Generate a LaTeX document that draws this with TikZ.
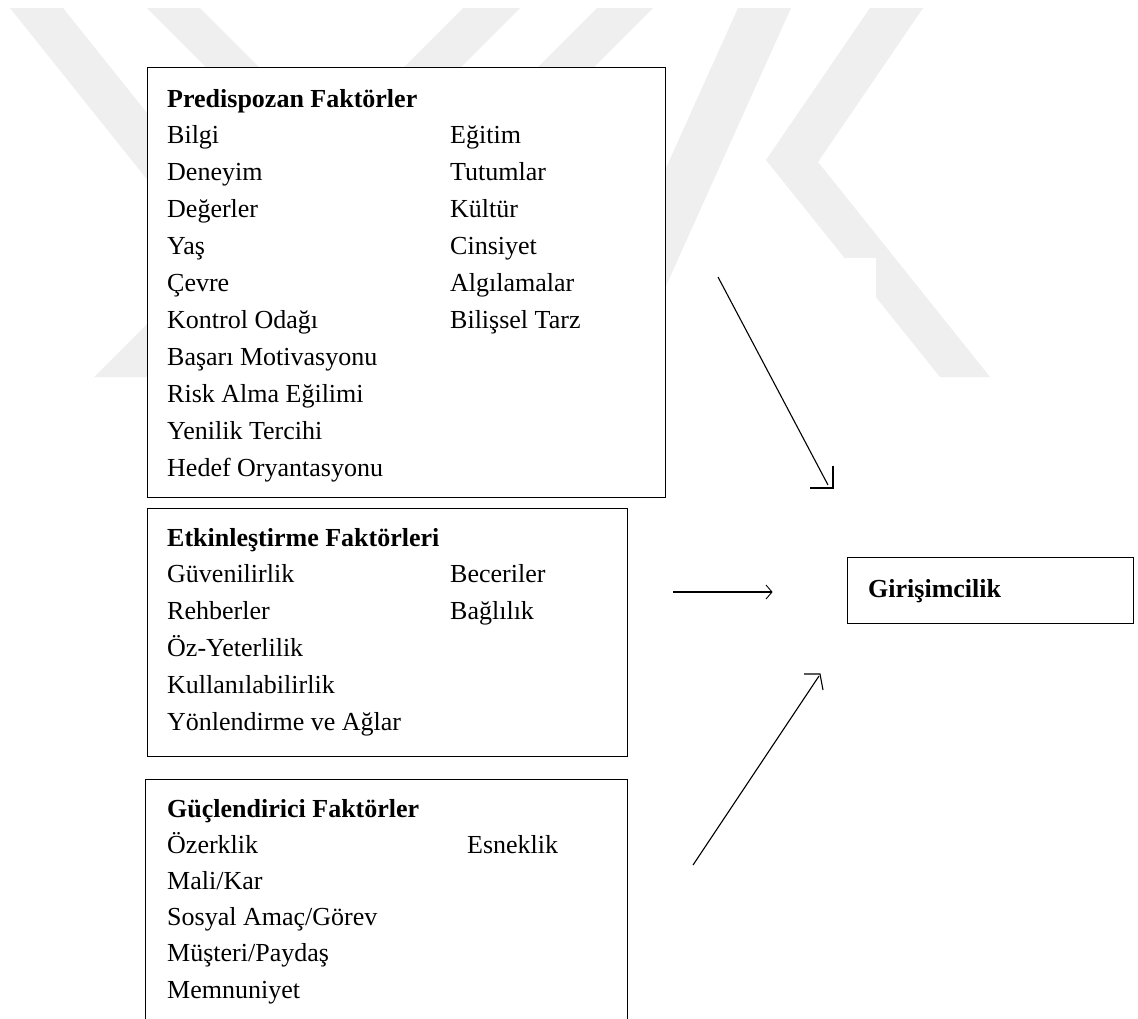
\documentclass[tikz,border=0pt]{standalone}
\usepackage{fontspec}
\setmainfont{Liberation Serif}
\usepackage{array}
\definecolor{wmgray}{RGB}{239,239,239}
\begin{document}
\begin{tikzpicture}[x=1pt,y=-1pt,
  wm/.style={fill=wmgray,draw=none},
  factorbox/.style={draw=black,line width=1.3pt,fill=white,inner sep=0pt,anchor=north west},
  itemtext/.style={inner sep=0pt,anchor=base west,align=left},
  link/.style={draw=black,line width=1.1pt},
]
\useasboundingbox (0,0) rectangle (1138,1018);
\fill[white] (0,0) rectangle (1138,1018);

% faint logo in the background
\begin{scope}
  \clip (0,8) rectangle (1138,377);
  \fill[wm] (10,8) -- (63,8) -- (358,377) -- (305,377) -- cycle;
  \fill[wm] (147,8) -- (200,8) -- (569,377) -- (516,377) -- cycle;
  \fill[wm] (463,8) -- (520,8) -- (151,377) -- (94,377) -- cycle;
  \fill[wm] (597,8) -- (653,8) -- (284,377) -- (228,377) -- cycle;
  \fill[wm] (738,8) -- (791,8) -- (625,377) -- (572,377) -- cycle;
  \fill[wm] (870,8) -- (923,8) -- (818,162) -- (990,377) -- (940,377) -- (766,160) -- cycle;
\end{scope}
\fill[white] (688,258) rectangle (876,400);

% factor boxes
\node[factorbox,minimum width=518pt,minimum height=430pt] (pre) at (147,67) {};
\node[factorbox,minimum width=480pt,minimum height=248pt] (etk) at (147,508) {};
\begin{scope}
  \clip (0,0) rectangle (1138,1018);
  \node[factorbox,minimum width=482pt,minimum height=260pt] (guc) at (145,779) {};
\end{scope}
\node[factorbox,minimum width=286pt,minimum height=66pt] (gir) at (847,557) {};

% box contents
\node[itemtext] (pretxt) at (167,107) {\fontsize{26}{36.9}\selectfont
  \begin{tabular}[t]{@{}p{283pt}@{}l@{}}
  \multicolumn{2}{@{}l@{}}{\textbf{Predispozan Faktörler}}\\
  Bilgi & Eğitim\\
  Deneyim & Tutumlar\\
  Değerler & Kültür\\
  Yaş & Cinsiyet\\
  Çevre & Algılamalar\\
  Kontrol Odağı & Bilişsel Tarz\\
  Başarı Motivasyonu & \\
  Risk Alma Eğilimi & \\
  Yenilik Tercihi & \\
  Hedef Oryantasyonu &
  \end{tabular}};
\node[itemtext] (etktxt) at (167,546) {\fontsize{26}{36.9}\selectfont
  \begin{tabular}[t]{@{}p{283pt}@{}l@{}}
  \multicolumn{2}{@{}l@{}}{\textbf{Etkinleştirme Faktörleri}}\\
  Güvenilirlik & Beceriler\\
  Rehberler & Bağlılık\\
  Öz-Yeterlilik & \\
  Kullanılabilirlik & \\
  Yönlendirme ve Ağlar &
  \end{tabular}};
\node[itemtext] (guctxt) at (167,817) {\fontsize{26}{36.2}\selectfont
  \begin{tabular}[t]{@{}p{300pt}@{}l@{}}
  \multicolumn{2}{@{}l@{}}{\textbf{Güçlendirici Faktörler}}\\
  Özerklik & Esneklik\\
  Mali/Kar & \\
  Sosyal Amaç/Görev & \\
  Müşteri/Paydaş & \\
  Memnuniyet &
  \end{tabular}};
\node[itemtext] (girtxt) at (868,597) {\fontsize{26}{30}\selectfont\textbf{Girişimcilik}};

% arrows towards the outcome box
\coordinate (a1s) at (718,277);
\coordinate (a1e) at (828,485);
\coordinate (a1t) at (833,488);
\draw[link] (a1s) -- (a1e);
\draw[link] ([xshift=-23pt]a1t) -- (a1t) -- ([yshift=22pt]a1t);

\coordinate (a2s) at (673,592);
\coordinate (a2e) at (772,592);
\draw[link] (a2s) -- (a2e);
\draw[link,line width=0.9pt] ([xshift=-6pt,yshift=7pt]a2e) -- (a2e) -- ([xshift=-6pt,yshift=-7pt]a2e);

\coordinate (a3s) at (693,865);
\coordinate (a3e) at (819,676);
\coordinate (a3t) at (820,674);
\draw[link] (a3s) -- (a3e);
\draw[link] ([xshift=-16pt]a3t) -- (a3t) -- ([xshift=3pt,yshift=-16pt]a3t);
\end{tikzpicture}
\end{document}
